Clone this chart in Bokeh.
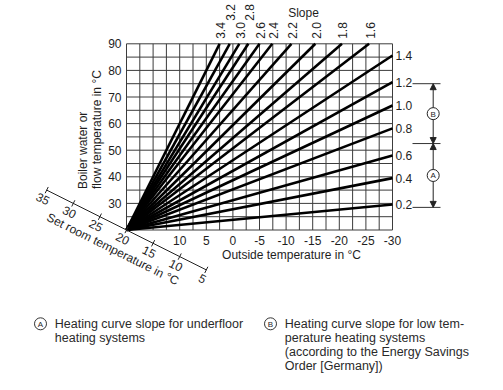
import numpy as np
from bokeh.plotting import figure
from bokeh.models import Range1d, Arrow, NormalHead
from bokeh.embed import file_html
from bokeh.resources import INLINE
from bokeh.core.properties import value

# ---------------- data ----------------
slope_labels = ["0.2", "0.4", "0.6", "0.8", "1.0", "1.2", "1.4", "1.6", "1.8",
                "2.0", "2.2", "2.4", "2.6", "2.8", "3.0", "3.2", "3.4"]
# end point of each heating curve (outside temp, flow temp); all start at (20, 20)
end_outside = [-30, -30, -30, -30, -30, -30, -30, -25.6, -20.5,
               -15.5, -11.0, -7.4, -5.0, -2.9, -1.2, 0.6, 2.5]
end_flow = [29.6, 39.5, 48.0, 58.2, 66.8, 75.6, 85.6, 90, 90,
            90, 90, 90, 90, 90, 90, 90, 90]
start_outside = 20
start_flow = 20

flow_ticks = [30, 40, 50, 60, 70, 80, 90]
outside_ticks = [10, 5, 0, -5, -10, -15, -20, -25, -30]
room_ticks = [35, 30, 25, 20, 15, 10, 5]
range_levels = [75.0, 52.5, 28.5]      # bracket limits (flow temp)
range_names = ["B", "A"]

footnote_A = ["Heating curve slope for underfloor", "heating systems"]
footnote_B = ["Heating curve slope for low tem-", "perature heating systems",
              "(according to the Energy Savings", "Order [Germany])"]

# ---------------- layout / scales ----------------
W, H = 487, 374
ORG = 0          # page px where the figure starts
PX_T = 5.32      # px per degree outside temperature
PX_V = 2.66      # px per degree flow temperature
X20 = 126.0      # page px of outside temp 20
Y90 = 43.3       # page px of flow temp 90


def T(px):
    return 20 - (px - X20) / PX_T


def V(py):
    return 90 - (py - Y90) / PX_V


p = figure(width=W, height=H, output_backend="svg", toolbar_location=None,
           x_range=Range1d(T(ORG), T(ORG + W)), y_range=Range1d(V(ORG + H), V(ORG)),
           x_axis_location=None, y_axis_location=None, min_border=0)
p.outline_line_color = None
p.xgrid.visible = False
p.ygrid.visible = False
p.background_fill_color = "white"

FONT = value("Liberation Sans")
TXT = "#1e1e1e"
GRID = "#3c3c3c"

# grid
gx = np.arange(20, -30.01, -2.5)
gy = np.arange(20, 90.01, 5)
p.segment(x0=gx, y0=20, x1=gx, y1=90, line_color=GRID, line_width=1)
p.segment(x0=20, y0=gy, x1=-30, y1=gy, line_color=GRID, line_width=1)

# heating curves
p.segment(x0=start_outside, y0=start_flow, x1=end_outside, y1=end_flow,
          line_color="black", line_width=2.6)

# flow-temperature tick labels
p.text(x=[20] * len(flow_ticks), y=flow_ticks, text=[str(t) for t in flow_ticks],
       text_font=FONT, text_font_size="12px", text_color=TXT,
       text_align="right", text_baseline="middle", x_offset=-5)
# outside-temperature tick labels
p.text(x=outside_ticks, y=[20] * len(outside_ticks), text=[str(t) for t in outside_ticks],
       text_font=FONT, text_font_size="12px", text_color=TXT,
       text_align="center", text_baseline="middle", y_offset=10)
p.text(x=[T(291)], y=[V(254.5)], text=["Outside temperature in °C"],
       text_font=FONT, text_font_size="12px", text_color=TXT,
       text_align="center", text_baseline="middle")
# y axis title (two lines, rotated)
p.text(x=[T(82), T(96.5)], y=[V(188.5), V(188.5)],
       text=["Boiler water or", "flow temperature in °C"],
       text_font=FONT, text_font_size="12px", text_color=TXT,
       text_align="left", text_baseline="middle", angle=90, angle_units="deg")

# oblique room-temperature axis (room temp R at point (R, R))
p.line(x=[room_ticks[0], room_ticks[-1]], y=[room_ticks[0], room_ticks[-1]],
       line_color="#222222", line_width=1)
p.scatter(x=room_ticks, y=room_ticks, marker="dash", size=7, angle=63.43,
          angle_units="deg", line_color="#222222", line_width=1)
p.text(x=room_ticks, y=room_ticks, text=[str(t) for t in room_ticks],
       text_font=FONT, text_font_size="12px", text_color=TXT,
       text_align="center", text_baseline="middle", angle=-26.57, angle_units="deg",
       x_offset=-3.8, y_offset=8.5)
p.text(x=[20.6], y=[20.6], text=["Set room temperature in °C"],
       text_font=FONT, text_font_size="12px", text_color=TXT,
       text_align="center", text_baseline="middle", angle=-26.57, angle_units="deg",
       x_offset=-10.4, y_offset=20.8)

# slope labels: right side
n_right = sum(1 for f in end_flow if f < 90)
p.text(x=end_outside[:n_right], y=end_flow[:n_right], text=slope_labels[:n_right],
       text_font=FONT, text_font_size="12px", text_color=TXT,
       text_align="left", text_baseline="middle", x_offset=3)
# slope labels: top (rotated), 3.2 and 2.8 staggered higher
top_lbl = slope_labels[n_right:]
top_x = end_outside[n_right:]
top_y = end_flow[n_right:]
stag = [-23 if s in ("3.2", "2.8") else -5 for s in top_lbl]
p.text(x=top_x, y=top_y, text=top_lbl, text_font=FONT, text_font_size="12px",
       text_color=TXT, text_align="left", text_baseline="middle",
       angle=90, angle_units="deg", y_offset=stag, x_offset=1)
p.text(x=[T(303)], y=[V(12.5)], text=["Slope"], text_font=FONT,
       text_font_size="12px", text_color=TXT, text_align="center", text_baseline="middle")

# brackets A / B
bx0, bx1, bxa = T(412), T(440), T(432.7)
p.segment(x0=bx0, y0=range_levels, x1=bx1, y1=range_levels,
          line_color="#333333", line_width=1)
r = 6.0 / PX_V
mids = []
for a, b in zip(range_levels[:-1], range_levels[1:]):
    m = (a + b) / 2
    mids.append(m)
    for ys, ye in ((m + r, a), (m - r, b)):
        p.add_layout(Arrow(x_start=bxa, y_start=ys, x_end=bxa, y_end=ye,
                           line_color="#222222", line_width=1,
                           end=NormalHead(size=6, fill_color="#222222",
                                          line_color="#222222", line_width=1)))
p.scatter(x=[bxa] * len(mids), y=mids, marker="circle", size=12,
          fill_color="white", line_color="#222222", line_width=1)
p.text(x=[bxa] * len(mids), y=mids, text=range_names, text_font=FONT,
       text_font_size="8px", text_color=TXT, text_align="center",
       text_baseline="middle", y_offset=0.5)

# footnotes
fy = [323.3 + 14 * i for i in range(4)]
p.scatter(x=[T(40), T(270)], y=[V(323.3)] * 2, marker="circle", size=12,
          fill_color="white", line_color="#333333", line_width=1)
p.text(x=[T(40), T(270)], y=[V(323.3)] * 2, text=["A", "B"], text_font=FONT,
       text_font_size="8px", text_color=TXT, text_align="center",
       text_baseline="middle", y_offset=0.5)
p.text(x=[T(54.3)] * len(footnote_A), y=[V(v) for v in fy[:len(footnote_A)]],
       text=footnote_A, text_font=FONT, text_font_size="12.5px", text_color="#2a2a2a",
       text_align="left", text_baseline="middle")
p.text(x=[T(284.3)] * len(footnote_B), y=[V(v) for v in fy[:len(footnote_B)]],
       text=footnote_B, text_font=FONT, text_font_size="12.5px", text_color="#2a2a2a",
       text_align="left", text_baseline="middle")

open("out.html", "w").write(file_html(p, INLINE))
